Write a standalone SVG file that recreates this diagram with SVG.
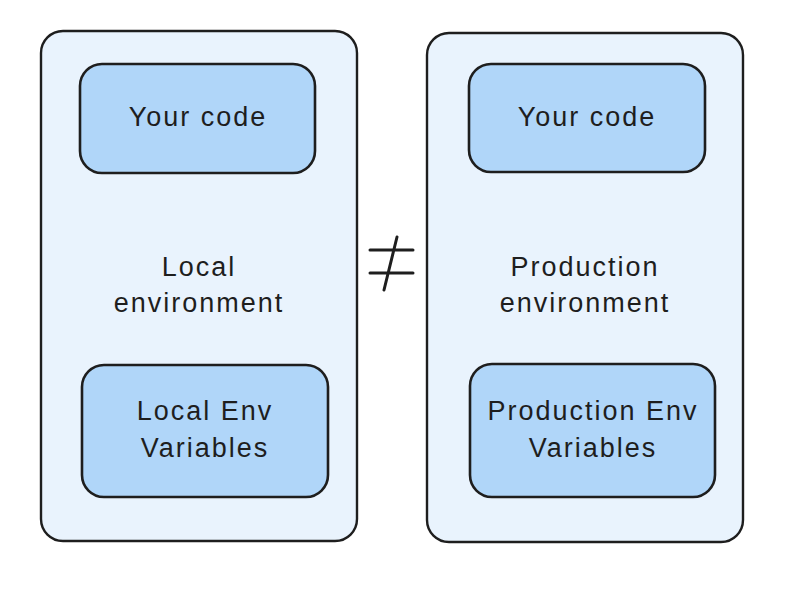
<svg xmlns="http://www.w3.org/2000/svg" width="802" height="606" viewBox="0 0 802 606">
<style>
.outer{fill:#e9f3fd;stroke:#1e1e1e;stroke-width:2.4}
.inner{fill:#b0d6f9;stroke:#1e1e1e;stroke-width:2.6}
text{font-family:"Liberation Sans","Open Sans",sans-serif;font-size:27px;fill:#1e1e1e;text-anchor:middle;dominant-baseline:central;letter-spacing:2px}
.conn{stroke:#1e1e1e;stroke-width:3;stroke-linecap:round;fill:none}
</style>
<rect width="802" height="606" fill="#ffffff"/>
<g id="local-env">
<rect class="outer" x="41" y="31" width="316" height="510" rx="22"/>
<text x="199" y="267">Local</text>
<text x="199" y="303">environment</text>
</g>
<g id="prod-env">
<rect class="outer" x="427" y="33" width="316" height="509" rx="22"/>
<text x="585" y="267">Production</text>
<text x="585" y="303">environment</text>
</g>
<g id="local-code">
<rect class="inner" x="80" y="64" width="235" height="109" rx="22"/>
<text x="198" y="117">Your code</text>
</g>
<g id="prod-code">
<rect class="inner" x="469" y="64" width="236" height="108" rx="22"/>
<text x="587" y="117">Your code</text>
</g>
<g id="local-vars">
<rect class="inner" x="82" y="365" width="246" height="132" rx="22"/>
<text x="205" y="411">Local Env</text>
<text x="205" y="448">Variables</text>
</g>
<g id="prod-vars">
<rect class="inner" x="470" y="364" width="245" height="133" rx="22"/>
<text x="593" y="411">Production Env</text>
<text x="593" y="448">Variables</text>
</g>
<g id="connectors">
<path class="conn" d="M370 250 L413 250 M370 273 L413 273 M397 237 L384 290"/>
</g>
</svg>
